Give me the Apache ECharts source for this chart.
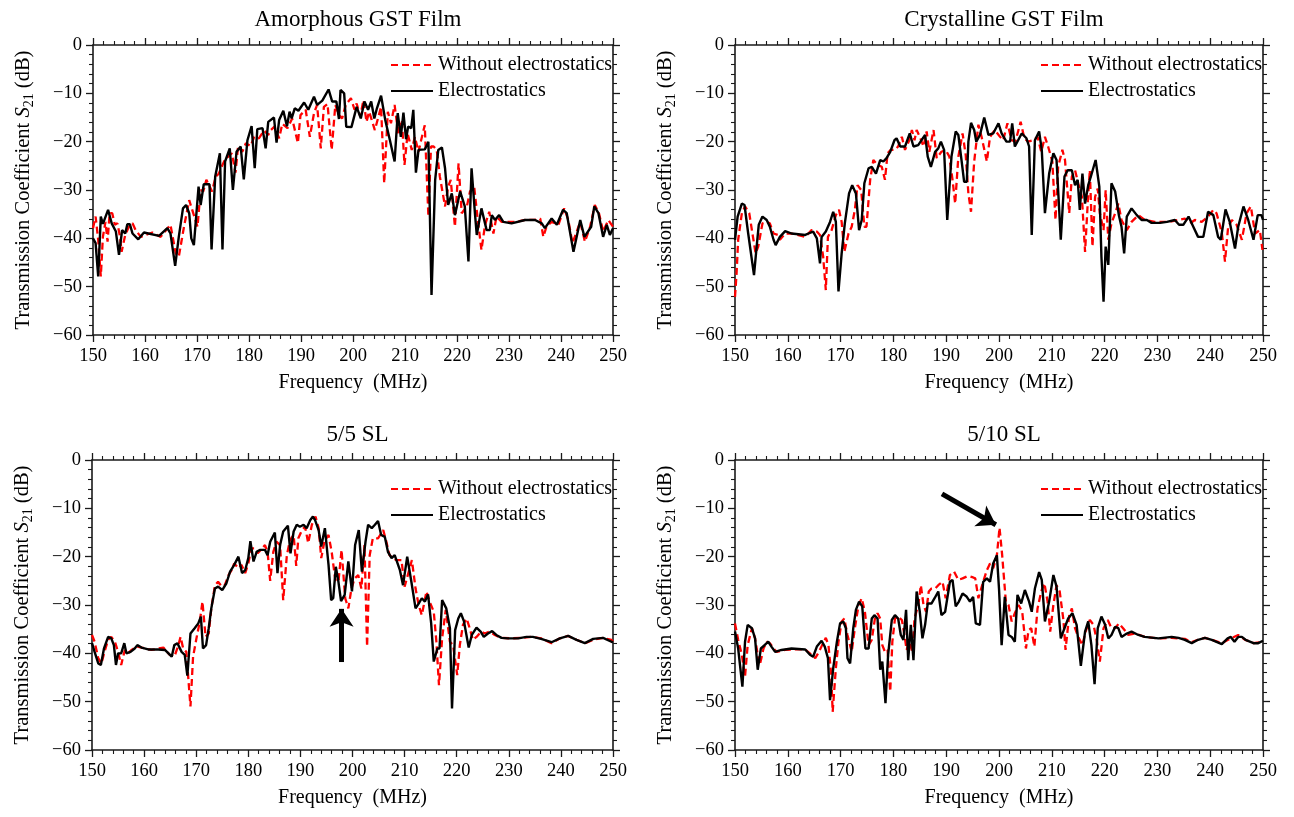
<!DOCTYPE html>
<html>
<head>
<meta charset="utf-8">
<title>Transmission Coefficient S21</title>
<script src="https://cdn.jsdelivr.net/npm/echarts@6/dist/echarts.min.js"></script>
<style>
  html, body { margin: 0; padding: 0; background: #fff; }
  #chart { width: 1294px; height: 817px; }
</style>
</head>
<body>
<div id="chart"></div>
<script>
// Frequency (MHz) vs S21 (dB) pairs for each film / superlattice
const amorphousOff = [[150.0,-37.9],[150.5,-35.5],[151.0,-40.3],[151.5,-47.9],[151.9,-39.7],[152.4,-36.6],[152.8,-40.7],[153.2,-34.8],[153.7,-34.8],[154.2,-37.2],[154.7,-36.9],[155.2,-39.7],[155.5,-42.8],[156.2,-39.3],[156.9,-37.6],[157.6,-36.9],[158.2,-38.3],[159.2,-39.7],[161.4,-38.8],[163.0,-39.7],[164.9,-37.2],[165.9,-43.1],[166.5,-43.8],[167.5,-37.6],[168.5,-32.1],[169.4,-35.2],[170.1,-37.6],[170.7,-30],[171.2,-30.3],[171.8,-27.9],[172.3,-29],[172.9,-30.3],[173.6,-27.2],[174.2,-26.6],[174.9,-24.8],[175.5,-23.4],[176.0,-23.1],[176.7,-22.4],[177.4,-26.4],[177.9,-21],[178.7,-22.1],[179.4,-20.3],[180.3,-20.9],[181.0,-19],[181.9,-19.3],[182.9,-17.7],[183.7,-18.6],[184.2,-17.6],[184.9,-16.9],[185.8,-19.3],[186.4,-16.3],[187.4,-17.2],[188.3,-15.2],[189.4,-20.3],[189.9,-14.5],[190.9,-13.4],[191.7,-19],[192.5,-14.1],[193.1,-12.4],[193.8,-21.4],[194.4,-12.8],[195.1,-12.2],[195.9,-21.7],[196.6,-12.4],[197.3,-14.5],[197.9,-15.2],[198.6,-12.4],[199.6,-11],[200.3,-13.4],[200.7,-12.1],[201.4,-14.8],[202.0,-11.4],[202.6,-15.9],[203.1,-13.8],[203.6,-15.5],[204.2,-17.6],[204.9,-14.8],[205.4,-12.8],[206.0,-28.6],[206.7,-13.8],[207.3,-16.2],[208.0,-12.4],[208.7,-18.3],[209.4,-15.5],[209.9,-24.8],[210.5,-18.3],[211.3,-21.7],[211.9,-19],[212.6,-22.1],[213.1,-19.7],[213.8,-16.6],[214.5,-35.5],[215.0,-21],[215.5,-21],[216.1,-21.7],[216.7,-27.2],[217.7,-33.4],[218.3,-29.3],[218.8,-27.9],[219.6,-37.6],[220.3,-24.5],[220.9,-34.8],[221.9,-33.4],[222.5,-30.3],[223.3,-29.3],[224.0,-36.2],[224.7,-42.4],[225.4,-37.2],[226.2,-34.5],[227.0,-39],[227.6,-35.5],[228.6,-36.6],[231.2,-36.6],[233.1,-36.2],[235.0,-36.2],[236.0,-35.9],[236.6,-39.7],[237.2,-37.6],[238.2,-36.6],[239.5,-37.2],[240.6,-33.8],[241.4,-36.2],[242.2,-41],[243.7,-36.6],[244.6,-40.7],[245.6,-37.6],[246.5,-33.1],[247.3,-34.8],[248.1,-38.6],[249.1,-36.2],[250.0,-37.6]];

const amorphousOn = [[150.0,-40],[150.5,-41],[151.0,-47.9],[151.5,-35.5],[151.9,-37],[152.9,-34.1],[153.6,-36.9],[154.4,-38.6],[155.0,-43.4],[155.6,-38.3],[156.2,-39],[156.6,-37.1],[157.1,-37.1],[157.6,-39],[158.7,-40.2],[159.8,-38.8],[162.7,-39.5],[164.3,-37.9],[164.9,-39],[165.8,-45.7],[166.5,-39.7],[167.3,-33.8],[167.9,-33.1],[168.5,-34.8],[168.9,-40],[169.4,-41.4],[170.3,-29.3],[170.7,-33.1],[171.3,-28.8],[172.4,-28.8],[172.8,-42.3],[173.5,-27.2],[174.4,-22.4],[174.9,-42.3],[175.4,-24.1],[176.3,-21.4],[176.9,-30],[177.6,-22.1],[178.4,-21],[179.0,-27.8],[179.7,-19.7],[180.5,-16.8],[181.1,-25.5],[181.6,-17.4],[182.6,-17.2],[183.2,-21.4],[183.7,-15.9],[184.8,-15],[185.3,-20.2],[185.8,-15.5],[186.6,-13.6],[187.3,-16.8],[187.8,-13.8],[188.2,-15.2],[188.8,-13.1],[189.5,-13.6],[190.6,-11.9],[191.4,-13.4],[192.5,-10.7],[193.1,-12.4],[194.1,-11.5],[195.3,-9.2],[196.0,-11.7],[196.8,-11.7],[197.3,-15.3],[197.6,-9.3],[198.3,-10],[198.7,-16.9],[199.7,-17],[200.7,-12.8],[201.5,-15.2],[202.2,-11.7],[202.9,-13.4],[203.5,-11.7],[204.1,-15.2],[204.6,-13.1],[205.4,-10.5],[206.2,-15.5],[207.1,-19.7],[208.0,-24.1],[208.6,-14.1],[209.2,-19],[209.7,-14],[210.2,-19.5],[210.6,-16.9],[211.2,-17.2],[211.6,-13.4],[212.1,-26.4],[212.6,-21.7],[213.8,-21.6],[214.5,-20],[215.1,-51.7],[215.8,-27.9],[216.4,-21.7],[217.1,-21.2],[217.7,-25.5],[218.3,-33.1],[219.0,-30.7],[219.6,-35.2],[220.6,-30.3],[221.5,-33.4],[222.2,-44.8],[222.8,-25.5],[223.5,-35.5],[223.8,-39.3],[224.7,-33.8],[225.7,-38.3],[226.3,-38.3],[226.7,-35.2],[227.3,-36.2],[228.1,-35.2],[228.9,-36.6],[230.5,-36.9],[233.1,-36.2],[235.0,-36.2],[236.3,-36.9],[236.9,-37.9],[238.2,-35.9],[239.2,-37.2],[240.4,-34.1],[241.1,-34.8],[242.4,-42.8],[243.7,-36.2],[244.5,-39.7],[245.8,-37.6],[246.4,-33.4],[247.2,-34.8],[248.1,-39.7],[248.8,-37.2],[249.4,-39.3],[250.0,-37.9]];

const crystallineOff = [[150.0,-52.1],[150.3,-47.2],[150.6,-40.3],[151.3,-34.8],[151.9,-33.4],[152.7,-34.8],[153.2,-38.3],[153.9,-43.1],[154.4,-41.7],[155.2,-36.9],[156.0,-36.6],[156.6,-36.9],[157.3,-39],[158.1,-39.3],[158.5,-40.3],[159.5,-39],[160.7,-39],[163.3,-39.7],[164.5,-38.3],[165.5,-38.6],[166.1,-39.3],[166.7,-43.8],[167.2,-50.7],[167.6,-39.7],[168.3,-38.3],[169.1,-35.2],[169.7,-34.1],[170.2,-36.6],[170.7,-42.8],[171.5,-39],[172.1,-37.6],[172.7,-34.1],[173.2,-29],[173.9,-30],[174.5,-37.6],[174.9,-37.6],[175.6,-27.9],[176.2,-23.8],[177.0,-24.8],[177.8,-25.2],[178.4,-27.9],[178.9,-22.4],[179.5,-21.7],[180.3,-21.7],[180.9,-21],[181.6,-19],[182.2,-21.7],[183.0,-19.7],[183.5,-17.6],[184.0,-19.7],[184.4,-17.6],[185.0,-19],[185.7,-21],[186.3,-17.9],[186.8,-22.1],[187.6,-17.6],[188.2,-23.4],[189.1,-22.1],[189.9,-21.7],[190.6,-23.1],[191.2,-27.9],[191.7,-32.8],[192.3,-23.1],[193.1,-18.3],[193.7,-22.8],[194.2,-30.7],[194.7,-34.5],[195.3,-24.1],[196.1,-16.5],[196.7,-19],[197.7,-24.1],[198.3,-19],[199.2,-17.6],[200.2,-19],[200.8,-19.7],[201.6,-16.2],[202.4,-19.7],[203.1,-20],[204.1,-15.9],[204.8,-19.3],[205.5,-20],[206.5,-19.7],[207.3,-19],[208.0,-22.1],[208.7,-19],[209.3,-21],[210.1,-24.1],[210.7,-36.2],[211.2,-25.2],[212.0,-21.7],[212.5,-23.8],[213.3,-34.8],[213.8,-27.2],[214.4,-25.9],[215.0,-28.6],[215.7,-31.4],[216.3,-42.8],[216.8,-32.8],[217.2,-25.9],[217.7,-41.7],[218.2,-31.4],[218.7,-29.7],[219.1,-34.8],[219.8,-38.3],[220.2,-30],[220.7,-40.3],[221.3,-36.9],[222.0,-34.8],[222.6,-32.8],[223.2,-36.2],[224.2,-38.3],[225.1,-36.6],[226.4,-35.2],[227.6,-36.2],[229.5,-36.6],[232.1,-36.6],[234.0,-36.2],[235.2,-35.9],[236.2,-36.9],[237.1,-36.2],[238.4,-36.6],[239.6,-35.5],[240.6,-34.1],[241.2,-34.8],[242.2,-38.8],[242.8,-44.8],[243.4,-37.6],[244.1,-36.2],[245.0,-37.2],[246.0,-40.3],[246.9,-34.8],[247.7,-33.4],[248.5,-39],[249.4,-38.3],[249.9,-42.4]];

const crystallineOn = [[150.0,-40.3],[150.5,-35.5],[151.3,-32.8],[151.8,-33.1],[152.5,-39],[153.6,-47.6],[154.1,-41.7],[154.5,-37.2],[155.2,-35.5],[156.0,-36.2],[156.6,-37.6],[157.3,-40.3],[157.7,-41.4],[158.5,-39.7],[159.5,-38.5],[160.7,-39],[163.3,-39.3],[163.9,-39],[164.8,-38.6],[165.5,-40],[166.1,-45.2],[166.4,-39.7],[167.2,-38.6],[168.0,-36.6],[168.6,-34.5],[169.1,-36.6],[169.6,-51],[170.2,-43.1],[170.8,-36.9],[171.6,-30.7],[172.2,-29],[172.9,-30.7],[173.5,-38.3],[174.0,-36.2],[174.5,-28.6],[175.3,-25.5],[175.9,-25.2],[176.7,-26.6],[177.5,-23.8],[178.1,-24.1],[178.7,-23.4],[179.4,-22.1],[180.2,-19.7],[180.6,-19.3],[181.3,-21],[182.2,-21],[183.1,-18.3],[183.8,-21],[184.7,-20.7],[186.0,-18.6],[186.5,-23.1],[187.1,-25.2],[187.9,-22.1],[188.5,-21.4],[189.0,-20],[189.6,-21.7],[190.2,-36.2],[191.0,-23.1],[191.8,-17.9],[192.3,-18.6],[192.9,-23.8],[193.4,-28.3],[193.9,-28.3],[194.2,-20],[194.7,-16.1],[195.3,-17.6],[195.7,-20],[196.4,-18.6],[197.2,-15],[198.0,-18.6],[198.9,-18.3],[199.9,-16.2],[200.5,-18.3],[201.4,-20],[202.1,-20],[202.5,-16.2],[203.0,-21],[204.3,-18.3],[205.2,-19.3],[205.7,-21],[206.2,-39.3],[206.8,-19.7],[207.6,-17.9],[208.1,-21.7],[208.7,-34.8],[209.5,-26.6],[210.3,-22.4],[210.9,-23.8],[211.7,-40.3],[212.4,-27.2],[213.0,-25.9],[213.8,-25.9],[214.4,-29],[214.9,-27.9],[215.3,-34.1],[215.8,-26.6],[216.3,-32.8],[216.9,-29],[217.4,-27.2],[218.3,-23.8],[219.0,-29.3],[219.4,-43.8],[219.8,-53.1],[220.2,-41.7],[220.7,-45.5],[221.3,-28.6],[222.0,-30.3],[222.7,-35.2],[223.2,-37.6],[223.7,-43.1],[224.2,-35.5],[225.1,-33.8],[226.1,-35.2],[227.0,-36.2],[228.0,-36.2],[228.9,-36.8],[230.5,-36.8],[231.8,-36.6],[233.3,-36.2],[234.1,-37.2],[234.9,-37.2],[235.9,-35.5],[236.8,-37.6],[237.7,-39.7],[238.7,-39.7],[239.6,-34.5],[240.6,-35.2],[241.5,-39.7],[242.0,-40.3],[242.9,-34],[243.7,-36.6],[244.7,-42.1],[245.3,-37.6],[246.3,-33.4],[247.2,-36.2],[248.2,-40.3],[249.0,-35.2],[249.7,-35.2],[250.0,-36.2]];

const sl55Off = [[150.0,-36.2],[150.5,-37.6],[151.2,-41],[151.8,-42.1],[152.4,-39.7],[153.1,-37.2],[153.7,-36.6],[154.4,-37.6],[155.0,-39.7],[155.6,-42.4],[156.3,-39.3],[156.9,-40],[157.6,-39.3],[158.5,-38.6],[159.5,-38.8],[161.4,-39.3],[163.7,-38.8],[164.9,-40.3],[165.8,-40.7],[166.5,-38.6],[167.0,-36.6],[167.5,-39],[168.1,-39.7],[168.9,-51],[169.4,-40.7],[170.1,-36.6],[170.7,-33.4],[171.2,-29.3],[171.8,-36.6],[172.4,-35.9],[172.9,-30.7],[173.6,-25.9],[174.2,-25.2],[174.9,-26.2],[175.5,-25.9],[176.2,-23.8],[176.8,-22.8],[177.3,-21.4],[178.1,-22.4],[178.7,-21.7],[179.4,-23.4],[180.0,-21.4],[180.6,-18.3],[181.3,-18.3],[181.8,-19.3],[182.4,-18.6],[183.2,-17.6],[183.7,-19],[184.2,-25],[184.8,-19],[185.4,-16.9],[186.1,-17.6],[186.7,-29],[187.4,-19.7],[188.0,-16.6],[188.7,-15.5],[189.2,-21.9],[189.6,-16.2],[190.3,-14.5],[190.9,-13.8],[191.5,-17.2],[192.2,-13.4],[192.9,-11.7],[193.5,-14.1],[194.0,-20.3],[194.6,-16.9],[195.4,-15.5],[196.0,-19],[196.7,-24.8],[197.3,-25.2],[197.9,-18.6],[198.6,-28.6],[199.2,-30.7],[199.8,-26.6],[200.4,-24.5],[201.1,-23.8],[201.7,-26.6],[202.3,-17.6],[202.8,-38.6],[203.3,-19.7],[203.9,-16.2],[204.9,-16.2],[205.9,-14.5],[206.5,-16.9],[207.1,-19.7],[207.8,-20.3],[208.4,-20.7],[209.4,-20.7],[210.0,-26.2],[210.8,-23.1],[211.4,-20.7],[212.1,-26.6],[212.7,-30],[213.3,-32.1],[214.2,-27.2],[214.8,-29.3],[215.6,-31.4],[216.1,-37.6],[216.6,-46.6],[217.2,-36.9],[217.9,-31],[218.7,-37.6],[219.3,-38.3],[220.1,-44.5],[220.6,-38.3],[221.2,-34.1],[221.9,-32.8],[222.5,-34.8],[223.1,-37.2],[223.8,-36.6],[224.7,-35.5],[225.4,-35.9],[226.3,-35.5],[227.3,-36.2],[228.6,-36.8],[230.5,-36.9],[232.4,-36.8],[234.3,-36.6],[236.2,-36.9],[238.2,-37.9],[239.8,-36.9],[241.4,-36.4],[243.0,-37.2],[244.6,-37.9],[246.2,-37.2],[248.1,-36.8],[249.7,-37.2],[250.0,-37.6]];

const sl55On = [[150.0,-37.9],[150.5,-39.7],[151.2,-42.1],[151.7,-42.4],[152.3,-39],[153.1,-36.6],[153.7,-36.9],[154.2,-38.3],[154.6,-42.4],[155.0,-40],[155.6,-40],[156.2,-37.9],[156.6,-40],[157.4,-39.7],[158.2,-39],[158.7,-38.3],[159.5,-38.8],[160.8,-39.2],[162.7,-39.2],[164.0,-39.3],[165.3,-40.7],[165.8,-38.3],[166.4,-37.9],[167.2,-39.7],[167.8,-40.3],[168.3,-44.6],[168.9,-35.9],[169.7,-34.8],[170.4,-33.8],[170.9,-32.4],[171.3,-39],[171.9,-38.3],[172.4,-34.8],[172.9,-30.7],[173.6,-26.6],[174.2,-26.2],[175.0,-26.9],[175.8,-25.5],[176.5,-23.1],[177.3,-21.7],[178.1,-20],[178.8,-23.4],[179.4,-22.8],[180.0,-20.3],[180.4,-16.8],[181.0,-21],[181.6,-19],[182.2,-18.6],[183.2,-18.6],[183.7,-19.7],[184.2,-16.9],[185.1,-15],[185.6,-23.4],[186.1,-17.6],[186.7,-14.8],[187.6,-13.6],[188.1,-19.3],[188.7,-14.8],[189.3,-13.4],[189.9,-13.8],[190.6,-13.4],[191.2,-14.1],[191.9,-12.4],[192.4,-11.7],[192.8,-12.4],[193.5,-14.5],[194.0,-17.9],[194.7,-14.1],[195.4,-21.7],[195.9,-29],[196.3,-28.6],[196.8,-22.1],[197.3,-25.2],[197.8,-29.2],[198.5,-27.9],[199.2,-21],[199.9,-27.2],[200.5,-17.6],[201.2,-14.5],[201.8,-23.1],[202.5,-16.9],[203.0,-13.4],[203.7,-14.1],[204.3,-13.4],[204.9,-12.6],[205.5,-15.5],[206.2,-15.9],[206.8,-19],[207.5,-20.3],[208.1,-19.7],[209.1,-22.8],[209.7,-25.9],[210.5,-20],[211.3,-25.2],[212.1,-30.7],[212.7,-29.7],[213.3,-28.6],[213.9,-29.3],[214.5,-27.8],[215.1,-33.8],[215.6,-41.7],[216.3,-39],[216.7,-39],[217.2,-29],[218.0,-30.7],[218.7,-34.8],[219.1,-51.4],[219.7,-35.2],[220.3,-32.8],[220.8,-31.7],[221.4,-33.4],[222.3,-38.8],[222.9,-36.2],[223.8,-34.7],[224.6,-35.5],[225.2,-36.6],[226.0,-35.9],[226.8,-35.4],[227.6,-36.2],[228.6,-36.8],[229.8,-36.9],[231.8,-36.9],[233.4,-36.6],[234.6,-36.6],[236.2,-37],[238.2,-37.7],[239.8,-36.9],[241.4,-36.4],[243.0,-37.2],[244.6,-37.9],[246.2,-37],[248.1,-36.8],[249.7,-37.6],[250.0,-37.7]];

const sl510Off = [[150.0,-33.8],[150.6,-37.2],[151.3,-40.3],[151.9,-44.8],[152.4,-38.3],[153.2,-34.8],[153.8,-36.9],[154.3,-40.3],[154.7,-42.4],[155.4,-39],[156.0,-37.6],[156.6,-37.9],[157.3,-39],[157.9,-39.7],[159.5,-39.3],[161.4,-39.2],[163.3,-39.2],[164.5,-40.3],[165.2,-41],[165.9,-39.7],[166.5,-38.3],[167.2,-36.8],[167.7,-38.3],[168.2,-44.1],[168.5,-52.1],[169.1,-43.1],[169.6,-37.6],[170.2,-33.4],[170.7,-32.8],[171.3,-36.2],[172.1,-39.7],[172.7,-34.8],[173.4,-30],[174.0,-28.6],[174.6,-31.4],[175.3,-38.3],[175.9,-37.2],[176.5,-32.8],[177.0,-31.7],[177.5,-32.8],[177.9,-38.3],[178.4,-39.7],[178.9,-39.3],[179.4,-47.9],[179.8,-37.6],[180.3,-32.8],[180.9,-32.4],[181.6,-33.1],[182.1,-36.2],[182.5,-39.3],[183.0,-37.6],[183.6,-39.7],[184.0,-32.8],[184.7,-30],[185.2,-25.9],[185.7,-30],[186.2,-31.4],[186.7,-27.2],[187.2,-26.6],[187.9,-26.6],[188.5,-25.9],[189.3,-25.2],[189.9,-28.6],[190.7,-23.8],[191.5,-23.1],[192.3,-24.8],[193.1,-24.5],[193.9,-24.1],[194.5,-24.1],[195.1,-24.3],[195.5,-24.5],[196.1,-28.6],[197.0,-25.2],[197.7,-22.8],[198.3,-21.4],[198.9,-22.4],[199.6,-19.7],[200.1,-14],[200.6,-19.7],[201.3,-29.3],[201.8,-30],[202.4,-33.4],[203.0,-31.7],[203.7,-30],[204.4,-31.4],[205.1,-39],[205.6,-35.2],[206.1,-34.8],[206.7,-38.6],[207.3,-30.7],[208.0,-27.2],[208.6,-25.5],[209.2,-29.3],[209.7,-35.5],[210.3,-30],[210.9,-25.9],[211.5,-27.2],[212.2,-33.1],[212.6,-39.3],[213.3,-32.1],[213.8,-30.7],[214.4,-34.8],[215.0,-36.6],[215.8,-38.3],[216.4,-35.5],[217.2,-33.1],[217.9,-34.1],[218.5,-37.2],[219.1,-41.7],[219.8,-34.8],[220.6,-33.1],[221.3,-34.8],[222.0,-34.8],[222.7,-33.8],[223.5,-34.8],[224.5,-36.2],[225.8,-35.9],[227.6,-36.6],[230.2,-36.9],[232.7,-36.8],[235.2,-37],[236.5,-37.7],[237.7,-37.2],[239.0,-36.8],[240.3,-37.2],[242.2,-37.9],[243.4,-37.2],[245.3,-36.2],[246.6,-37.2],[248.2,-37.9],[250.0,-37.6]];

const sl510On = [[150.0,-35.5],[150.6,-39],[151.4,-46.9],[151.9,-37.6],[152.4,-34.1],[153.2,-34.8],[153.8,-36.9],[154.3,-43.4],[154.9,-39],[155.6,-38.3],[156.3,-37.6],[156.9,-38.6],[157.6,-39.7],[158.8,-39.3],[160.7,-39],[163.3,-39.2],[164.2,-40.3],[164.8,-40.7],[165.5,-38.6],[166.4,-37.4],[167.0,-38.6],[167.6,-41],[168.0,-49.7],[168.6,-43.1],[169.3,-37.6],[169.9,-33.8],[170.5,-33.4],[171.0,-34.8],[171.3,-41],[171.8,-42.1],[172.4,-34.8],[172.9,-31],[173.5,-29.3],[174.1,-30.3],[174.7,-39],[175.3,-39],[175.9,-32.8],[176.4,-32.1],[177.0,-32.8],[177.5,-43.4],[177.9,-41.7],[178.5,-50.3],[179.0,-40.3],[179.7,-33.1],[180.3,-32.1],[180.9,-32.8],[181.4,-36.2],[181.9,-37.2],[182.4,-31],[182.8,-41.4],[183.3,-34.1],[183.8,-41.4],[184.4,-27.2],[185.0,-31.4],[185.5,-36.9],[186.0,-34.1],[186.5,-29.7],[187.2,-29.7],[187.8,-28.6],[188.5,-27.2],[189.1,-32.1],[189.8,-31.4],[190.7,-25.2],[191.2,-24.8],[191.8,-30.3],[192.4,-29.3],[193.1,-27.6],[193.9,-28.3],[194.5,-29.3],[195.1,-28.3],[195.6,-33.8],[196.4,-34.1],[197.0,-25.2],[197.7,-24.5],[198.3,-25.2],[198.9,-21.4],[199.6,-19.7],[200.0,-26.6],[200.5,-38.3],[201.1,-28.3],[201.8,-36.2],[202.4,-36.6],[203.0,-37.6],[203.5,-27.9],[204.2,-29.7],[204.9,-26.9],[205.7,-29.3],[206.2,-31.4],[206.8,-26.6],[207.6,-23.2],[208.1,-24.8],[208.7,-33.4],[209.5,-29.3],[210.3,-23.8],[210.9,-26.2],[211.7,-36.9],[212.4,-34.8],[213.1,-32.8],[213.9,-31.7],[214.7,-34.1],[215.5,-42.6],[216.3,-35.5],[216.9,-33.4],[217.5,-38.3],[218.1,-46.4],[218.7,-34.8],[219.4,-32.4],[220.1,-34.1],[220.7,-36.9],[221.3,-36.2],[222.0,-34.5],[222.6,-34.8],[223.2,-36.6],[224.2,-35.9],[225.1,-35.5],[226.4,-36.2],[227.6,-36.6],[230.2,-36.9],[232.7,-36.6],[234.0,-36.8],[235.2,-37.2],[236.5,-37.9],[237.7,-37.2],[239.0,-36.8],[240.3,-37.2],[242.2,-38.1],[243.3,-36.9],[243.9,-36.6],[244.6,-37.6],[245.3,-36.6],[246.0,-36.6],[246.7,-37.2],[248.2,-37.9],[249.1,-37.9],[250.0,-37.4]];

// Panel titles and series names
const panelTitles = ['Amorphous GST Film', 'Crystalline GST Film', '5/5 SL', '5/10 SL'];
const seriesNames = ['Without electrostatics', 'Electrostatics'];
const panelData = [
  [amorphousOff, amorphousOn],
  [crystallineOff, crystallineOn],
  [sl55Off, sl55On],
  [sl510Off, sl510On]
];

// Axis ranges / ticks
const freqMin = 150, freqMax = 250, freqStep = 10;
const dbMin = -60, dbMax = 0, dbStep = 10;

// Annotation arrows [tail, tip] in (MHz, dB)
const arrowSL55 = [[197.9, -41.8], [197.9, -30.8]];
const arrowSL510 = [[189.2, -7.0], [199.4, -13.4]];

const FONT = '"Liberation Serif", "Times New Roman", serif';

const grids = [
  { left: 93, top: 45, width: 520, height: 290 },
  { left: 735, top: 45, width: 528, height: 290 },
  { left: 92, top: 460, width: 521, height: 290 },
  { left: 735, top: 460, width: 528, height: 290 }
];

const axisLineStyle = { color: '#1a1a1a', width: 1.6 };
const minus = v => String(v).replace('-', '\u2212');

const xAxes = [], yAxes = [], series = [], titles = [], legends = [];

grids.forEach((g, i) => {
  const common = {
    gridIndex: i, type: 'value',
    axisLine: { show: true, onZero: false, lineStyle: axisLineStyle },
    axisTick: { show: true, inside: false, length: 7, lineStyle: { color: '#1a1a1a', width: 1.3 } },
    minorTick: { show: true, splitNumber: 5, length: 4, lineStyle: { color: '#1a1a1a', width: 1.1 } },
    splitLine: { show: false }
  };
  // bottom + top frequency axes
  xAxes.push(Object.assign({}, common, {
    position: 'bottom', min: freqMin, max: freqMax, interval: freqStep,
    axisLabel: { fontFamily: FONT, fontSize: 18.5, color: '#000', margin: 12 },
    name: 'Frequency  (MHz)', nameLocation: 'middle', nameGap: 38,
    nameTextStyle: { fontFamily: FONT, fontSize: 20, color: '#000' }
  }));
  xAxes.push(Object.assign({}, common, {
    position: 'top', min: freqMin, max: freqMax, interval: freqStep,
    axisLabel: { show: false }
  }));
  // left + right S21 axes
  yAxes.push(Object.assign({}, common, {
    position: 'left', min: dbMin, max: dbMax, interval: dbStep,
    axisLabel: { fontFamily: FONT, fontSize: 18.5, color: '#000', margin: 11, formatter: minus },
    name: 'Transmission Coefficient {i|S}{s|21} (dB)', nameLocation: 'middle', nameGap: 57,
    nameTextStyle: {
      fontFamily: FONT, fontSize: 20.5, color: '#000',
      rich: {
        i: { fontFamily: FONT, fontSize: 20.5, fontStyle: 'italic', color: '#000' },
        s: { fontFamily: FONT, fontSize: 14, color: '#000', verticalAlign: 'bottom', padding: [10, 0, 0, 0] }
      }
    }
  }));
  yAxes.push(Object.assign({}, common, {
    position: 'right', min: dbMin, max: dbMax, interval: dbStep,
    axisLabel: { show: false }
  }));

  titles.push({
    text: panelTitles[i],
    left: g.left + g.width / 2,
    top: g.top - 42,
    textAlign: 'center',
    textStyle: { fontFamily: FONT, fontSize: 23, fontWeight: 'normal', color: '#000' }
  });

  legends.push({
    orient: 'vertical',
    left: g.left + g.width - 228,
    top: g.top + 5 + (i >= 2 ? 9 : 0),
    itemWidth: 42, itemHeight: 14, itemGap: 6,
    data: seriesNames,
    itemStyle: { opacity: 0 },
    textStyle: { fontFamily: FONT, fontSize: 20, color: '#000' },
    selectedMode: false
  });

  const [off, on] = panelData[i];
  series.push({
    name: seriesNames[0], type: 'line', xAxisIndex: 2 * i, yAxisIndex: 2 * i,
    data: off, symbol: 'none', animation: false,
    lineStyle: { color: '#ff0000', width: 2.3, type: [7, 4] },
    itemStyle: { color: '#ff0000' }
  });
  const onSeries = {
    name: seriesNames[1], type: 'line', xAxisIndex: 2 * i, yAxisIndex: 2 * i,
    data: on, symbol: 'none', animation: false,
    lineStyle: { color: '#000', width: 2.4, type: 'solid' },
    itemStyle: { color: '#000' }
  };
  const arrow = i === 2 ? arrowSL55 : (i === 3 ? arrowSL510 : null);
  if (arrow) {
    onSeries.markLine = {
      silent: true, animation: false,
      symbol: ['none', 'arrow'], symbolSize: 18,
      label: { show: false },
      lineStyle: { color: '#000', width: 5, type: 'solid' },
      itemStyle: { color: '#000' },
      emphasis: { disabled: true },
      data: [[{ coord: arrow[0] }, { coord: arrow[1] }]]
    };
  }
  series.push(onSeries);
});

const chart = echarts.init(document.getElementById('chart'), null, { renderer: 'canvas' });
chart.setOption({
  backgroundColor: '#fff',
  animation: false,
  title: titles,
  legend: legends,
  grid: grids,
  xAxis: xAxes,
  yAxis: yAxes,
  series: series
});
</script>
</body>
</html>
